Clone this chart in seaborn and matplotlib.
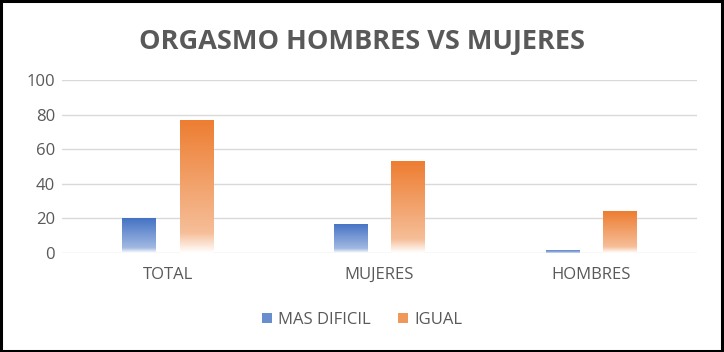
import numpy as np
import pandas as pd
import seaborn as sns
import matplotlib.pyplot as plt
from matplotlib.colors import to_rgb
from matplotlib.patches import Rectangle, Patch

categories = ["TOTAL", "MUJERES", "HOMBRES"]
mas_dificil = [20, 17, 2]
igual = [77, 53, 24]
series_names = ["MAS DIFICIL", "IGUAL"]
colors = ["#4472C4", "#ED7D31"]

df = pd.DataFrame({
    "cat": categories * 2,
    "serie": [series_names[0]] * 3 + [series_names[1]] * 3,
    "val": mas_dificil + igual,
})

sns.set_style("white")
plt.rcParams["font.family"] = ["Open Sans", "DejaVu Sans"]

fig = plt.figure(figsize=(7.24, 3.52), dpi=100)
ax = fig.add_axes([62/724, 1-253/352, (697-62)/724, (253-80)/352])

sns.barplot(data=df, x="cat", y="val", hue="serie", palette=colors,
            width=0.54, gap=0.41, ax=ax, legend=False, order=categories,
            hue_order=series_names)

# gradient fills clipped to bars
for patch, col in zip(ax.patches, [colors[0]]*3 + [colors[1]]*3):
    x0, y0 = patch.get_x(), patch.get_y()
    w, h = patch.get_width(), patch.get_height()
    if h <= 0:
        continue
    c = np.array(to_rgb(col))
    n = 200
    t = np.linspace(0, 1, n)  # 0 bottom, 1 top
    light = c + (1 - c) * 0.5
    img = np.zeros((n, 1, 3))
    for i, ti in enumerate(t):
        if ti < 0.15:
            f = ti / 0.15
            rgb = np.ones(3) * (1 - f) + light * f
        else:
            f = (ti - 0.15) / 0.85
            rgb = light * (1 - f) + c * f
        img[i, 0] = rgb
    patch.set_facecolor("none")
    patch.set_edgecolor("none")
    im = ax.imshow(img, extent=[x0, x0 + w, y0, y0 + h], origin="lower",
                   aspect="auto", zorder=2, interpolation="bilinear")
    im.set_clip_path(patch)

ax.set_xlim(-0.5, 2.5)
ax.set_ylim(0, 100)
ax.set_yticks([0, 20, 40, 60, 80, 100])
ax.yaxis.grid(True, color="#D9D9D9", linewidth=1)
ax.set_axisbelow(True)
for s in ax.spines.values():
    s.set_visible(False)
ax.tick_params(axis="both", length=0, labelsize=12, colors="#595959", pad=5)
ax.tick_params(axis="x", pad=10)
ax.set_xlabel("")
ax.set_ylabel("")

fig.text(0.5, 1-42/352, "ORGASMO HOMBRES VS MUJERES", ha="center", va="center",
         fontsize=19.5, fontweight="bold", color="#595959")

handles = [Patch(facecolor=c + "CC", edgecolor="none") for c in colors]
fig.legend(handles, series_names, loc="center", bbox_to_anchor=(0.5, 1-320/352),
           ncol=2, frameon=False, fontsize=12, handlelength=0.6, handleheight=0.6,
           handletextpad=0.4, columnspacing=1.6, labelcolor="#595959")

fig.patches.append(Rectangle((0.002, 0.003), 0.995, 0.993, transform=fig.transFigure,
                             fill=False, edgecolor="black", linewidth=2.2))

fig.savefig("out.png", dpi=100)
